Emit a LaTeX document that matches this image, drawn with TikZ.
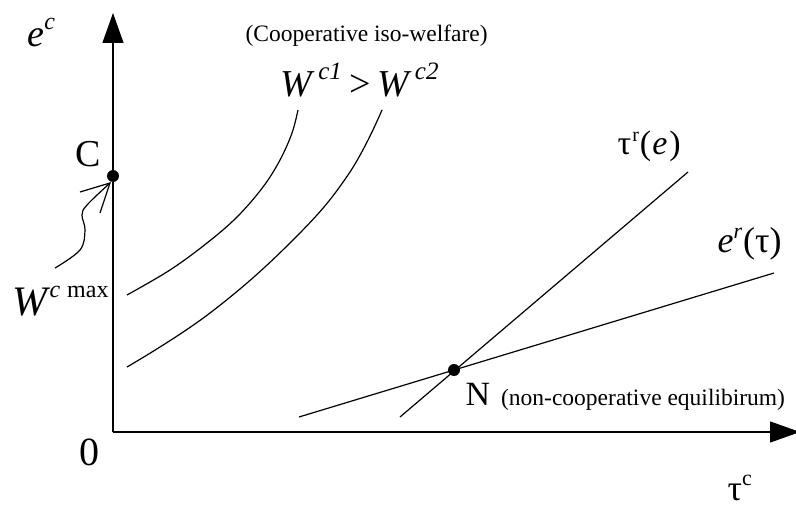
\documentclass[tikz,border=0pt]{standalone}
\usepackage{fontspec}
\setmainfont{Liberation Serif}
\usetikzlibrary{arrows.meta}
\newcommand\myfs[1]{\fontsize{#1pt}{#1pt}\selectfont}
\begin{document}
\begin{tikzpicture}[x=1pt,y=-1pt, line width=1.2pt,
  lbl/.style={inner sep=0pt, anchor=base west},
  dot/.style={circle, fill=black, inner sep=0pt, minimum size=12pt},
  axis/.style={-{Triangle[length=30pt,width=21pt]}, line width=1.3pt},
  curve/.style={line width=1.2pt}]
\useasboundingbox (0,0) rectangle (796,508);
% axes
\coordinate (O) at (113,432);
\coordinate (ytop) at (113,13);
\coordinate (xend) at (800,432);
\draw[axis] (O) -- (ytop);
\draw[axis] (O) -- (xend);
% reaction lines
\coordinate (tr1) at (400,417); \coordinate (tr2) at (688,172);
\draw (tr1) -- (tr2);
\coordinate (er1) at (299,417); \coordinate (er2) at (774,273);
\draw (er1) -- (er2);
% iso-welfare curves
\draw[curve] plot[smooth, tension=0.6] coordinates {(127,295) (170,270) (207,243) (237,217) (263,187) (280,160) (292,133) (298,110)};
\draw[curve] plot[smooth, tension=0.7] coordinates {(127,367) (210,313) (293,240) (348,175) (382,110)};
% dots
\node[dot] (C) at (113,176) {};
\node[dot] (N) at (454,370) {};
% wavy arrow
\coordinate (ws) at (55,268);
\coordinate (wtip) at (110,183);
\draw plot[smooth, tension=0.6] coordinates {(ws) (80,250) (85,230) (82,215) (87,205) (wtip)};
\draw (80,192) -- (wtip) -- (100,213);
% labels
\node[lbl] (ec) at (27,47) {\myfs{38}\itshape e\raisebox{17pt}{\myfs{24}c}};
\node[lbl] (coop) at (245,42) {\myfs{23.5}(Cooperative iso-welfare)};
\node[lbl] (Wc) at (280,97) {\myfs{38}\itshape W\hspace{6pt}\raisebox{17pt}{\myfs{25}c1}\hspace{8pt}\upshape >\hspace{6pt}\itshape W\hspace{6pt}\raisebox{17pt}{\myfs{25}c2}};
\node[lbl] (Clbl) at (75,167) {\myfs{38}C};
\node[lbl] (zero) at (79,465) {\myfs{40}0};
\node[lbl] (Nlbl) at (465,405) {\myfs{34}N\hspace{11pt}\myfs{23.5}(non-cooperative equilibirum)};
\node[lbl] (taur) at (617,155) {\myfs{34}τ\hspace{1pt}\raisebox{13pt}{\myfs{20}r}\hspace{1pt}(\hspace{1pt}\textit{e}\hspace{2pt})};
\node[lbl] (erl) at (717,252) {\myfs{36}\textit{e}\raisebox{14pt}{\myfs{22}\itshape r}\hspace{1pt}(τ)};
\node[lbl] (tauc) at (727,500) {\myfs{36}τ\raisebox{15pt}{\myfs{22}c}};
\node[lbl] (Wmax) at (12,315) {\myfs{42}\itshape W\hspace{2pt}\raisebox{18pt}{\myfs{24}c}\hspace{7pt}\upshape\raisebox{18pt}{\myfs{24}max}};
\end{tikzpicture}
\end{document}
